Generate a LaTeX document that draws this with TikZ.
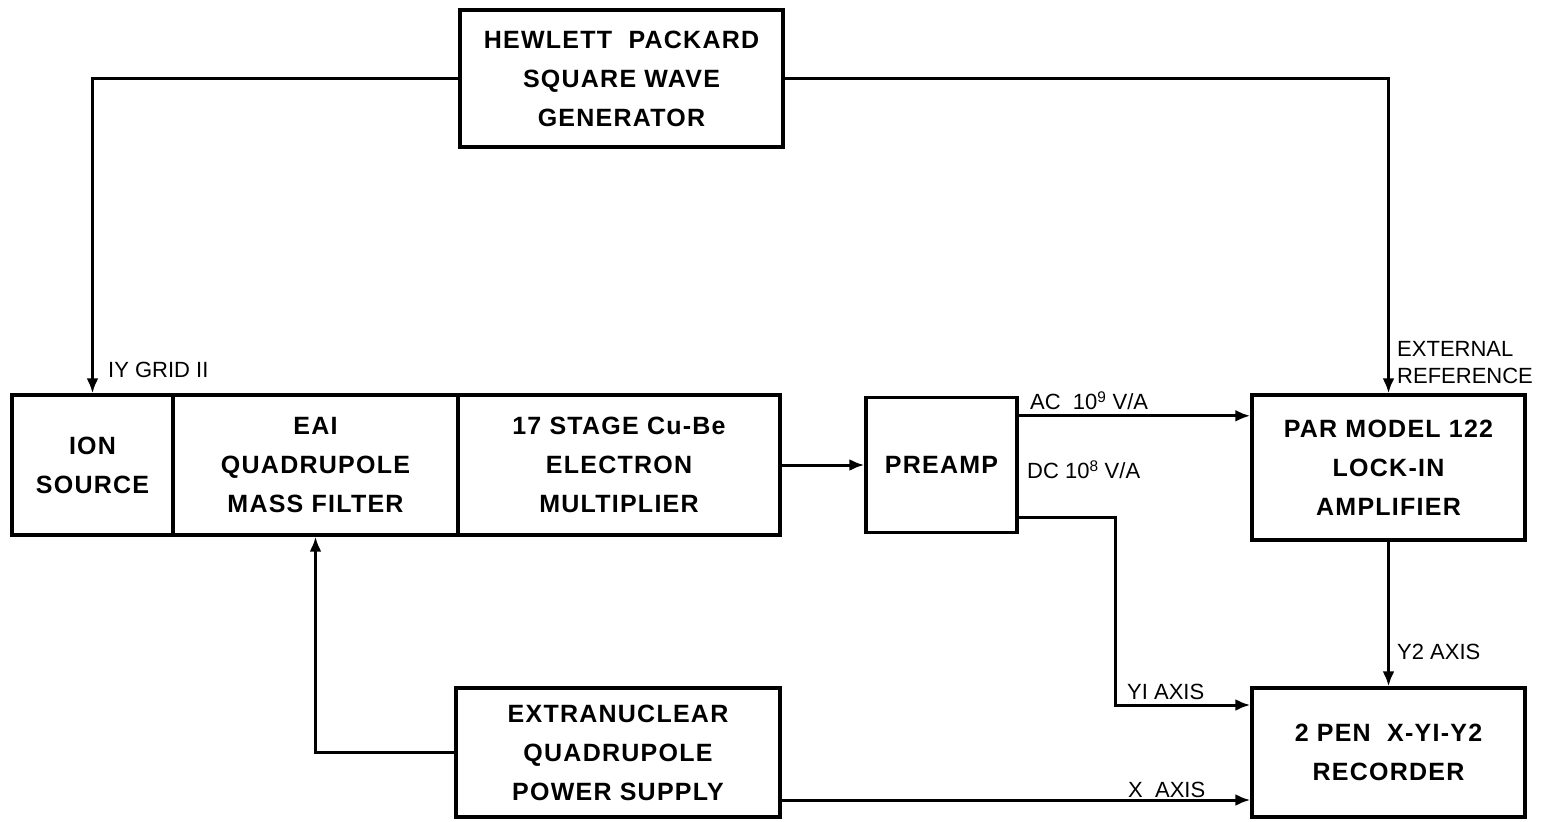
\documentclass[tikz,border=0pt]{standalone}
\usepackage{fontspec}
\setmainfont{Liberation Sans}
\newfontfamily\boxfam[LetterSpace=5]{Liberation Sans}
\usetikzlibrary{arrows.meta}
\newcommand\boxfont{\boxfam\bfseries\fontsize{25}{39}\selectfont}
\newcommand\labfont{\fontsize{22}{27}\selectfont}
\tikzset{
 box/.style={draw, line width=3.4pt, inner sep=0pt, align=center, font=\boxfont},
 conn/.style={line width=3pt},
 arr/.style={conn, -{Latex[length=15pt,width=12pt]}},
 lab/.style={font=\labfont, inner sep=0pt},
}
\begin{document}
\begin{tikzpicture}[x=1pt,y=-1pt]
\useasboundingbox (0,0) rectangle (1548,822);
% boxes
\node[box, minimum width=323pt, minimum height=137pt] (hp) at (621.5,78.5) {HEWLETT\ \ PACKARD\\SQUARE WAVE\\GENERATOR};
\node[box, minimum width=161pt, minimum height=140pt] (ion) at (92.5,465) {ION\\SOURCE};
\node[box, minimum width=285pt, minimum height=140pt] (eai) at (315.5,465) {EAI\\QUADRUPOLE\\MASS FILTER};
\node[box, minimum width=322pt, minimum height=140pt] (mult) at (619,465) {17 STAGE Cu-Be\\ELECTRON\\MULTIPLIER};
\node[box, minimum width=151pt, minimum height=135pt] (pre) at (941.5,465) {PREAMP};
\node[box, minimum width=273pt, minimum height=145pt] (par) at (1388.5,467.5) {PAR MODEL 122\\LOCK-IN\\AMPLIFIER};
\node[box, minimum width=273pt, minimum height=129pt] (rec) at (1388.5,752.5) {2 PEN\ \ X-YI-Y2\\RECORDER};
\node[box, minimum width=324pt, minimum height=129pt] (ext) at (618,752.5) {EXTRANUCLEAR\\QUADRUPOLE\\POWER SUPPLY};
% connectors
\draw[arr] (hp.west) -| (ion.north);
\draw[arr] (hp.east) -| (par.north);
\draw[arr] (mult.east) -- (pre.west);
\draw[arr] ([yshift=-20pt]pre.north east) coordinate (ac) -- (ac -| par.west);
\coordinate (dcx) at (1115,705);
\draw[arr] ([yshift=17pt]pre.south east) coordinate (dc) -| (dcx) -- (dcx -| rec.west);
\draw[arr] (par.south) -- (rec.north);
\draw[arr] (ext.west) -| (eai.south);
\draw[arr] ([yshift=-47.5pt]ext.east) coordinate (xa) -- (xa -| rec.west);
% labels
\node[lab, anchor=west] (grid) at (108,370) {IY GRID II};
\node[lab, anchor=north west, align=left] (extref) at (1397,341) {EXTERNAL\\REFERENCE};
\node[lab, anchor=south west] (aclab) at (1030,410) {AC\ \ 10\textsuperscript{9} V/A};
\node[lab, anchor=south west] (dclab) at (1027,479) {DC\ 10\textsuperscript{8} V/A};
\node[lab, anchor=south west] (y1lab) at (1127,700) {YI\ AXIS};
\node[lab, anchor=south west] (xlab) at (1128,798) {X\ \ AXIS};
\node[lab, anchor=west] (y2lab) at (1397,652) {Y2 AXIS};
\end{tikzpicture}
\end{document}
